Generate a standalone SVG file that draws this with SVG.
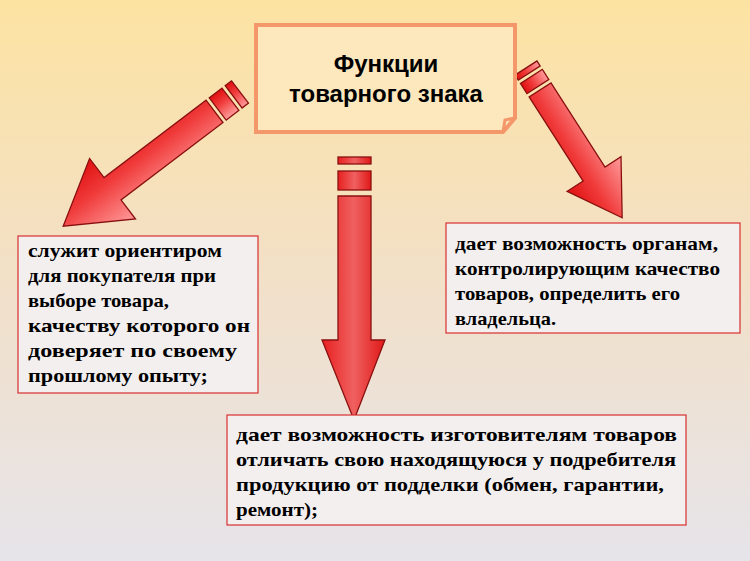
<svg xmlns="http://www.w3.org/2000/svg" width="750" height="561" viewBox="0 0 750 561">
<defs>
<linearGradient id="bg" x1="0" y1="0" x2="0" y2="1"><stop offset="0" stop-color="#fde3a2"/><stop offset="0.5" stop-color="#f2e0c8"/><stop offset="1" stop-color="#e6e4ea"/></linearGradient>
<linearGradient id="ar" x1="0" y1="0" x2="0" y2="1"><stop offset="0" stop-color="#ff9a9a"/><stop offset="0.6" stop-color="#f03a3a"/><stop offset="1" stop-color="#e01010"/></linearGradient>
<linearGradient id="arv" x1="0" y1="0" x2="1" y2="0"><stop offset="0" stop-color="#e82020"/><stop offset="0.5" stop-color="#f06060"/><stop offset="1" stop-color="#e01818"/></linearGradient>
<style>
.ar{stroke:#8a1010;stroke-width:1.3}
.box{fill:#f3efef;stroke:#d83030;stroke-width:1.2}
.t{font-family:"Liberation Serif",serif;font-weight:bold;font-size:19px;fill:#000}
.h{font-family:"Liberation Sans",Arial,sans-serif;font-weight:bold;font-size:24px;fill:#000;text-anchor:middle}
</style>
</defs>
<rect width="750" height="561" fill="url(#bg)"/>
<g id="connectors">
<g transform="translate(240,92) rotate(142.8)">
<rect x="0" y="-14" width="8" height="28" class="ar" fill="url(#ar)"/>
<rect x="12" y="-14" width="16" height="28" class="ar" fill="url(#ar)"/>
<polygon points="32,-14 160,-14 160,-38 222,0 160,38 160,14 32,14" class="ar" fill="url(#ar)"/>
</g>
<g>
<rect x="338" y="157" width="33" height="7" class="ar" fill="url(#arv)"/>
<rect x="338" y="171" width="33" height="19" class="ar" fill="url(#arv)"/>
<polygon points="338,196 371,196 371,340 385,340 354,420 322,340 338,340" class="ar" fill="url(#arv)"/>
</g>
<g transform="translate(526,68) rotate(57.3)">
<rect x="0" y="-13" width="6" height="26" class="ar" fill="url(#ar)"/>
<rect x="10" y="-13" width="12" height="26" class="ar" fill="url(#ar)"/>
<polygon points="26,-13 126,-13 126,-32 178,0 126,32 126,13 26,13" class="ar" fill="url(#ar)"/>
</g>
</g>
<g id="title">
<path d="M256,25 L515,25 L515,118 L503,132 L256,132 Z" fill="#fde7bd" stroke="#f4976a" stroke-width="4"/>
<path d="M503,132 L505,120 L515,118" fill="none" stroke="#f4976a" stroke-width="3"/>
<text class="h" x="386" y="72">Функции</text>
<text class="h" x="386" y="102">товарного знака</text>
</g>
<g id="left">
<rect x="18" y="236" width="240" height="157" class="box"/>
<text class="t" x="28" y="257" textLength="194" lengthAdjust="spacingAndGlyphs">служит ориентиром</text>
<text class="t" x="28" y="282" textLength="188" lengthAdjust="spacingAndGlyphs">для покупателя при</text>
<text class="t" x="28" y="307" textLength="141" lengthAdjust="spacingAndGlyphs">выборе товара,</text>
<text class="t" x="28" y="332" textLength="222" lengthAdjust="spacingAndGlyphs">качеству которого он</text>
<text class="t" x="28" y="357" textLength="209" lengthAdjust="spacingAndGlyphs">доверяет по своему</text>
<text class="t" x="28" y="382" textLength="180" lengthAdjust="spacingAndGlyphs">прошлому опыту;</text>
</g>
<g id="right">
<rect x="446" y="223" width="294" height="110" class="box"/>
<text class="t" x="455" y="250" textLength="263" lengthAdjust="spacingAndGlyphs">дает возможность органам,</text>
<text class="t" x="455" y="275" textLength="265" lengthAdjust="spacingAndGlyphs">контролирующим качество</text>
<text class="t" x="455" y="300" textLength="225" lengthAdjust="spacingAndGlyphs">товаров, определить его</text>
<text class="t" x="455" y="325" textLength="101" lengthAdjust="spacingAndGlyphs">владельца.</text>
</g>
<g id="bottom">
<rect x="227" y="415" width="459" height="110" class="box"/>
<text class="t" x="236" y="441" textLength="441" lengthAdjust="spacingAndGlyphs">дает возможность изготовителям товаров</text>
<text class="t" x="236" y="466" textLength="440" lengthAdjust="spacingAndGlyphs">отличать свою находящуюся у подребителя</text>
<text class="t" x="236" y="491" textLength="428" lengthAdjust="spacingAndGlyphs">продукцию от подделки (обмен, гарантии,</text>
<text class="t" x="236" y="516" textLength="82" lengthAdjust="spacingAndGlyphs">ремонт);</text>
</g>
</svg>
